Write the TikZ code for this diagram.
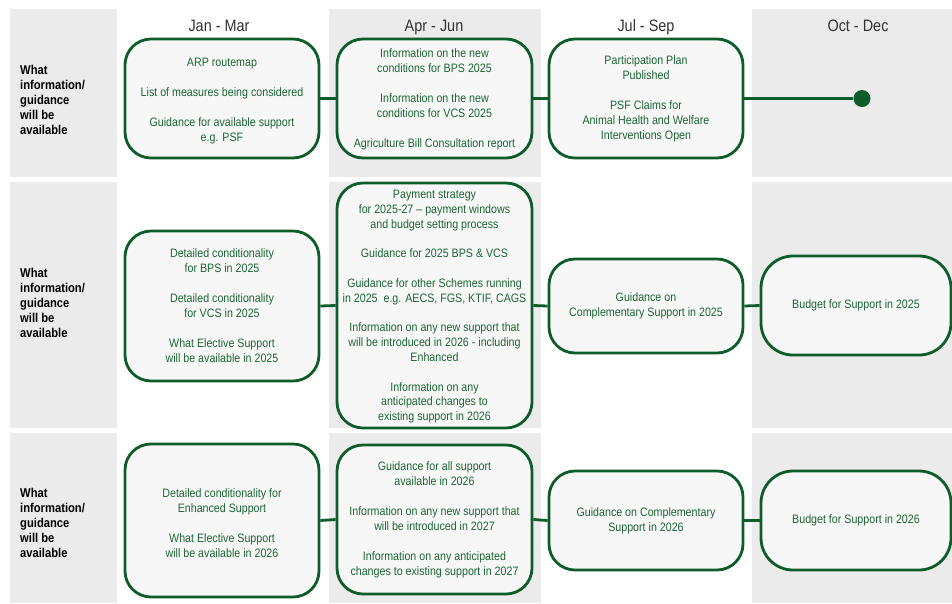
\documentclass[tikz,border=0pt]{standalone}
\usepackage{fontspec}
\setmainfont[FakeStretch=0.875]{Liberation Sans}
\definecolor{boxline}{HTML}{0E5C2A}
\definecolor{textgreen}{HTML}{1C6633}
\definecolor{panel}{HTML}{EBEBEB}
\definecolor{boxfill}{HTML}{F7F7F7}
\definecolor{headgray}{HTML}{333333}
\newcommand\downby[1]{\rule{0pt}{#1}}
\begin{document}
\begin{tikzpicture}[x=1pt,y=-1pt,
  panelfill/.style={fill=panel},
  box/.style={draw=boxline, line width=2.8pt, fill=boxfill, rounded corners=26pt,
    align=center, text=textgreen, inner sep=0pt, font=\fontsize{12.2}{15}\selectfont},
  conn/.style={draw=boxline, line width=2.8pt},
  rowlabel/.style={anchor=west, align=left, font=\fontsize{12.8}{15}\selectfont\bfseries, text=black, inner sep=0pt},
  colhead/.style={anchor=base, font=\fontsize{16.5}{18}\selectfont, text=headgray, inner sep=0pt}
]
\useasboundingbox (0,0) rectangle (952,603);
\fill[white] (0,0) rectangle (952,603);
% gray panels
\foreach \ya/\yb in {9/177, 182/428, 433/603}{
  \fill[panelfill] (10,\ya) rectangle (117,\yb);
  \fill[panelfill] (329,\ya) rectangle (541,\yb);
  \fill[panelfill] (752,\ya) rectangle (952,\yb);
}
% headers
\node[colhead] (h1) at (219,31) {Jan - Mar};
\node[colhead] (h2) at (434,31) {Apr - Jun};
\node[colhead] (h3) at (646,31) {Jul - Sep};
\node[colhead] (h4) at (858,31) {Oct - Dec};
% row labels
\node[rowlabel] (l1) at (20,100) {What\\information/\\guidance\\will be\\available};
\node[rowlabel] (l2) at (20,303) {What\\information/\\guidance\\will be\\available};
\node[rowlabel] (l3) at (20,523) {What\\information/\\guidance\\will be\\available};

% row 1
\node[box, minimum width=194pt, minimum height=119pt] (b11) at (222,98.5)
  {\downby{14pt}ARP routemap\\[15pt]List of measures being considered\\[15pt]Guidance for available support\\e.g. PSF};
\node[box, minimum width=195pt, minimum height=119pt] (b12) at (434.5,98.5)
  {\downby{11pt}Information on the new\\conditions for BPS 2025\\[15pt]Information on the new\\conditions for VCS 2025\\[15pt]Agriculture Bill Consultation report};
\node[box, minimum width=194pt, minimum height=119pt] (b13) at (646,98.5)
  {Participation Plan\\Published\\[15pt]PSF Claims for\\Animal Health and Welfare\\Interventions Open};
\node[circle, fill=boxline, inner sep=0pt, minimum size=17pt] (dot) at (862,98.5) {};
\draw[conn] (b11.east) -- (b12.west);
\draw[conn] (b12.east) -- (b13.west);
\draw[conn] (b13.east) -- (dot);

% row 2
\node[box, minimum width=194pt, minimum height=150pt] (b21) at (222,306)
  {Detailed conditionality\\for BPS in 2025\\[15pt]Detailed conditionality\\for VCS in 2025\\[15pt]What Elective Support\\will be available in 2025};
\node[box, minimum width=195pt, minimum height=245pt, font=\fontsize{12.2}{14.8}\selectfont] (b22) at (434.5,305.5)
  {\downby{11pt}Payment strategy\\for 2025-27 – payment windows\\and budget setting process\\[14.8pt]Guidance for 2025 BPS \& VCS\\[14.8pt]Guidance for other Schemes running\\in 2025\ \ e.g. AECS, FGS, KTIF, CAGS\\[14.8pt]Information on any new support that\\will be introduced in 2026 - including\\Enhanced\\[14.8pt]Information on any\\anticipated changes to\\existing support in 2026};
\node[box, minimum width=194pt, minimum height=94pt] (b23) at (646,306)
  {Guidance on\\Complementary Support in 2025};
\node[box, minimum width=190pt, minimum height=99pt, rounded corners=32pt] (b24) at (856,305.5)
  {Budget for Support in 2025};
\draw[conn] (b21.east) -- (b22.west);
\draw[conn] (b22.east) -- (b23.west);
\draw[conn] (b23.east) -- (b24.west);

% row 3
\node[box, minimum width=194pt, minimum height=153pt] (b31) at (222,520.5)
  {\downby{14pt}Detailed conditionality for\\Enhanced Support\\[15pt]What Elective Support\\will be available in 2026};
\node[box, minimum width=195pt, minimum height=149pt] (b32) at (434.5,519.5)
  {Guidance for all support\\available in 2026\\[15pt]Information on any new support that\\will be introduced in 2027\\[15pt]Information on any anticipated\\changes to existing support in 2027};
\node[box, minimum width=194pt, minimum height=99pt] (b33) at (646,520.5)
  {Guidance on Complementary\\Support in 2026};
\node[box, minimum width=190pt, minimum height=99pt, rounded corners=32pt] (b34) at (856,520.5)
  {Budget for Support in 2026};
\draw[conn] (b31.east) -- (b32.west);
\draw[conn] (b32.east) -- (b33.west);
\draw[conn] (b33.east) -- (b34.west);
\end{tikzpicture}
\end{document}
